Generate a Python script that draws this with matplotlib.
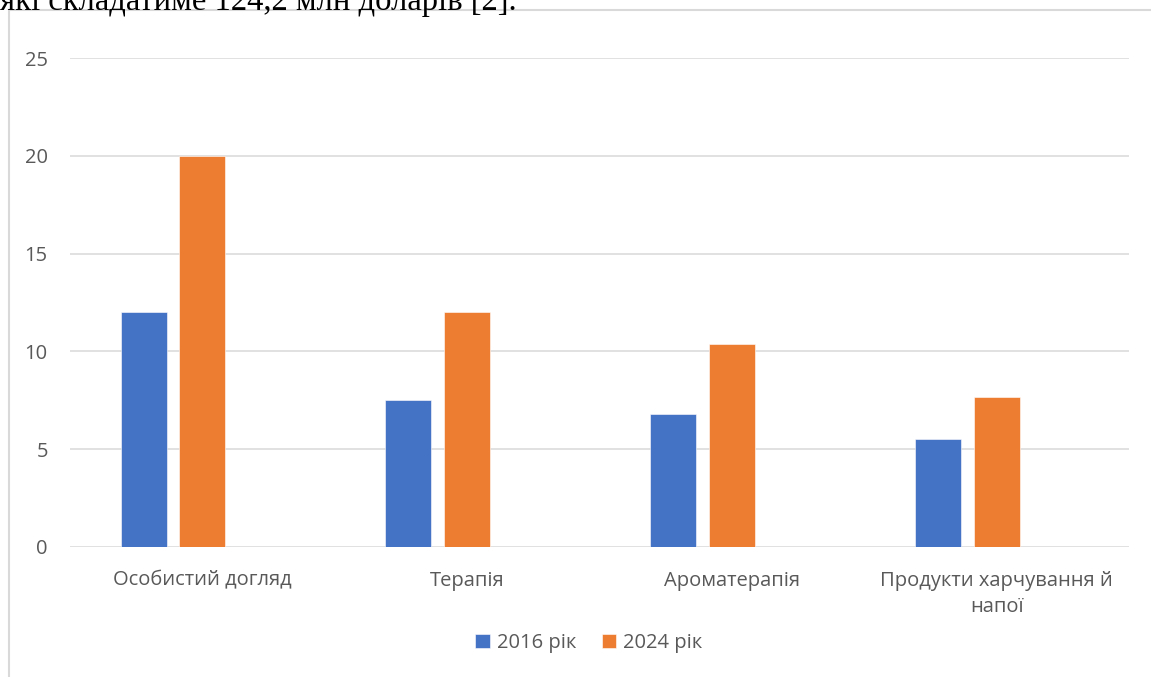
import numpy as np
import matplotlib.pyplot as plt
from matplotlib.patches import Rectangle

# Дані діаграми
categories = ['Особистий догляд', 'Терапія', 'Ароматерапія', 'Продукти харчування й\nнапої']
values_2016 = [12, 7.5, 6.8, 5.5]
values_2024 = [20, 12, 10.4, 7.65]
series_names = ['2016 рік', '2024 рік']
y_ticks = [0, 5, 10, 15, 20, 25]

blue = '#4472C4'
orange = '#ED7D31'
grid_col = '#D9D9D9'
text_col = '#595959'
fs = 14.5

plt.rcParams['font.family'] = ['Open Sans', 'DejaVu Sans']

W, H = 1151, 677
fig = plt.figure(figsize=(W / 100, H / 100), dpi=100)

# Рамка області діаграми (зліва і зверху, решта за межами кадру)
fig.patches.append(Rectangle((8.5 / W, -0.1), 1.2, (H - 10) / H + 0.1,
                             transform=fig.transFigure, fill=False,
                             edgecolor=grid_col, linewidth=1.5))

# Обрізаний текст документа зверху
fig.text(0, 1 - 10 / H, 'які складатиме 124,2 млн доларів [2].',
         family='Liberation Serif', fontsize=23.5, color='black',
         ha='left', va='baseline')

ax = fig.add_axes([70 / W, (H - 547) / H, (1129 - 70) / W, (547 - 58) / H])

x = np.arange(len(categories))
w = 0.174
ax.bar(x - 0.222, values_2016, width=w, color=blue, label=series_names[0],
       edgecolor='white', linewidth=0.4, zorder=3)
ax.bar(x, values_2024, width=w, color=orange, label=series_names[1],
       edgecolor='white', linewidth=0.4, zorder=3)

ax.set_xlim(-0.5, len(categories) - 0.5)
ax.set_ylim(0, 25)
ax.set_yticks(y_ticks)
ax.set_xticks(x)
ax.set_xticklabels(categories, fontsize=fs, color=text_col, linespacing=1.45)
ax.tick_params(axis='y', labelsize=fs, labelcolor=text_col, length=0, pad=16)
ax.tick_params(axis='x', length=0, pad=17)
ax.yaxis.grid(True, color=grid_col, linewidth=1.1, zorder=0)
for s in ax.spines.values():
    s.set_visible(False)

leg = fig.legend(loc='center', bbox_to_anchor=(589 / W, 1 - 643 / H), ncol=2,
                 frameon=False, fontsize=fs, handlelength=0.7, handleheight=0.7,
                 handletextpad=0.35, columnspacing=1.3)
for t in leg.get_texts():
    t.set_color(text_col)

fig.savefig('out.png', dpi=100)
